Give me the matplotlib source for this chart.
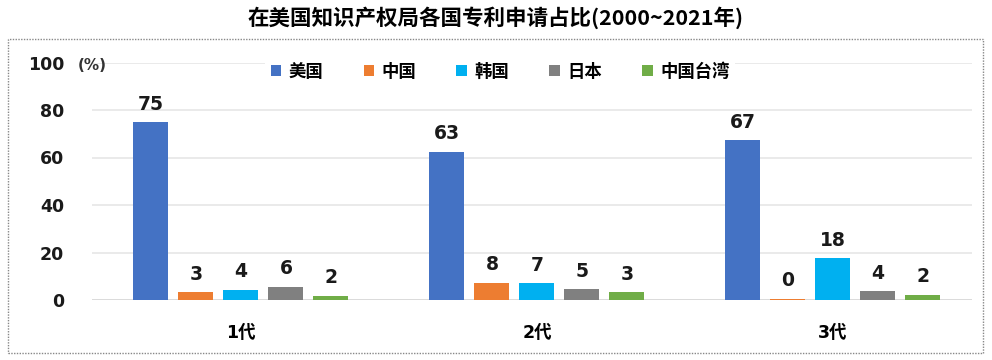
import numpy as np
import matplotlib
matplotlib.use("Agg")
import matplotlib.pyplot as plt
from matplotlib.patches import Rectangle
from matplotlib.transforms import blended_transform_factory

plt.rcParams["font.family"] = ["Noto Sans CJK SC", "DejaVu Sans"]
plt.rcParams["font.weight"] = "bold"
NUM_FONT = ["DejaVu Sans", "Noto Sans CJK SC"]

# ---------------------------------------------------------------------
# Data
# ---------------------------------------------------------------------
generations = ["1代", "2代", "3代"]
regions = ["美国", "中国", "韩国", "日本", "中国台湾"]
colors = ["#4472C4", "#ED7D31", "#00B0F0", "#808080", "#70AD47"]

# bar heights (%), and the printed labels
shares = {
    "美国": [74.8, 62.5, 67.2],
    "中国": [3.4, 7.3, 0.5],
    "韩国": [4.4, 7.0, 17.7],
    "日本": [5.6, 4.6, 3.6],
    "中国台湾": [1.8, 3.4, 2.3],
}
labels = {
    "美国": ["75", "63", "67"],
    "中国": ["3", "8", "0"],
    "韩国": ["4", "7", "18"],
    "日本": ["6", "5", "4"],
    "中国台湾": ["2", "3", "2"],
}
yticks = [0, 20, 40, 60, 80, 100]

# ---------------------------------------------------------------------
# Plot
# ---------------------------------------------------------------------
W, H = 992, 360
fig = plt.figure(figsize=(W / 100, H / 100), dpi=100)
ax = fig.add_axes([92 / W, 1 - 300 / H, (972 - 92) / W, (300 - 62.5) / H])

x = np.arange(len(generations))
step, width = 0.152, 0.118
for i, (name, col) in enumerate(zip(regions, colors)):
    pos = x + (i - 2) * step
    ax.bar(pos, shares[name], width=width, color=col, label=name, zorder=3)
    for px, v, lab in zip(pos, shares[name], labels[name]):
        ax.annotate(lab, (px, v), xytext=(0, 6), textcoords="offset points",
                    ha="center", va="bottom", fontsize=13.5, fontweight="bold",
                    family=NUM_FONT, color="#1a1a1a")

ax.set_xlim(-0.503, 2.47)
ax.set_ylim(0, 100)
ax.set_yticks(yticks)
ax.set_yticklabels([str(t) for t in yticks], fontsize=12.5, fontweight="bold",
                   family=NUM_FONT, color="#1a1a1a")
ax.tick_params(axis="y", length=0, pad=20)
ax.set_xticks(x)
ax.set_xticklabels(generations, fontsize=12.5, fontweight="bold",
                   family=NUM_FONT, color="black")
ax.tick_params(axis="x", length=0, pad=17)
ax.grid(axis="y", color="#e6e6e6", linewidth=1.2, zorder=0)
ax.set_axisbelow(True)
for s in ax.spines.values():
    s.set_visible(False)
ax.axhline(0, color="#d9d9d9", linewidth=1.2, zorder=2)

trans = blended_transform_factory(ax.transAxes, ax.transData)
ax.text(-14 / 880, 98.6, "(%)", transform=trans, fontsize=11, fontweight="bold",
        family=NUM_FONT, color="#333333", ha="left", va="center")

leg = ax.legend(loc="center", bbox_to_anchor=(0.464, 0.96), ncol=5,
                frameon=True, facecolor="white", edgecolor="none", framealpha=1,
                fontsize=12.5, handlelength=0.6, handleheight=0.6,
                handletextpad=0.45, columnspacing=2.3, borderpad=0.3)
for t in leg.get_texts():
    t.set_fontweight("bold")
leg.set_zorder(4)

fig.text(0.5, 1 - 18 / H, "在美国知识产权局各国专利申请占比(2000~2021年)",
         ha="center", va="center", fontsize=15.5, fontweight="bold")

border = Rectangle((8 / W, 1 - 353 / H), (983 - 8) / W, (353 - 39) / H,
                   transform=fig.transFigure, fill=False, edgecolor="#888888",
                   linestyle=(0, (1, 1)), linewidth=1)
fig.patches.append(border)

fig.savefig("out.png", dpi=100)
